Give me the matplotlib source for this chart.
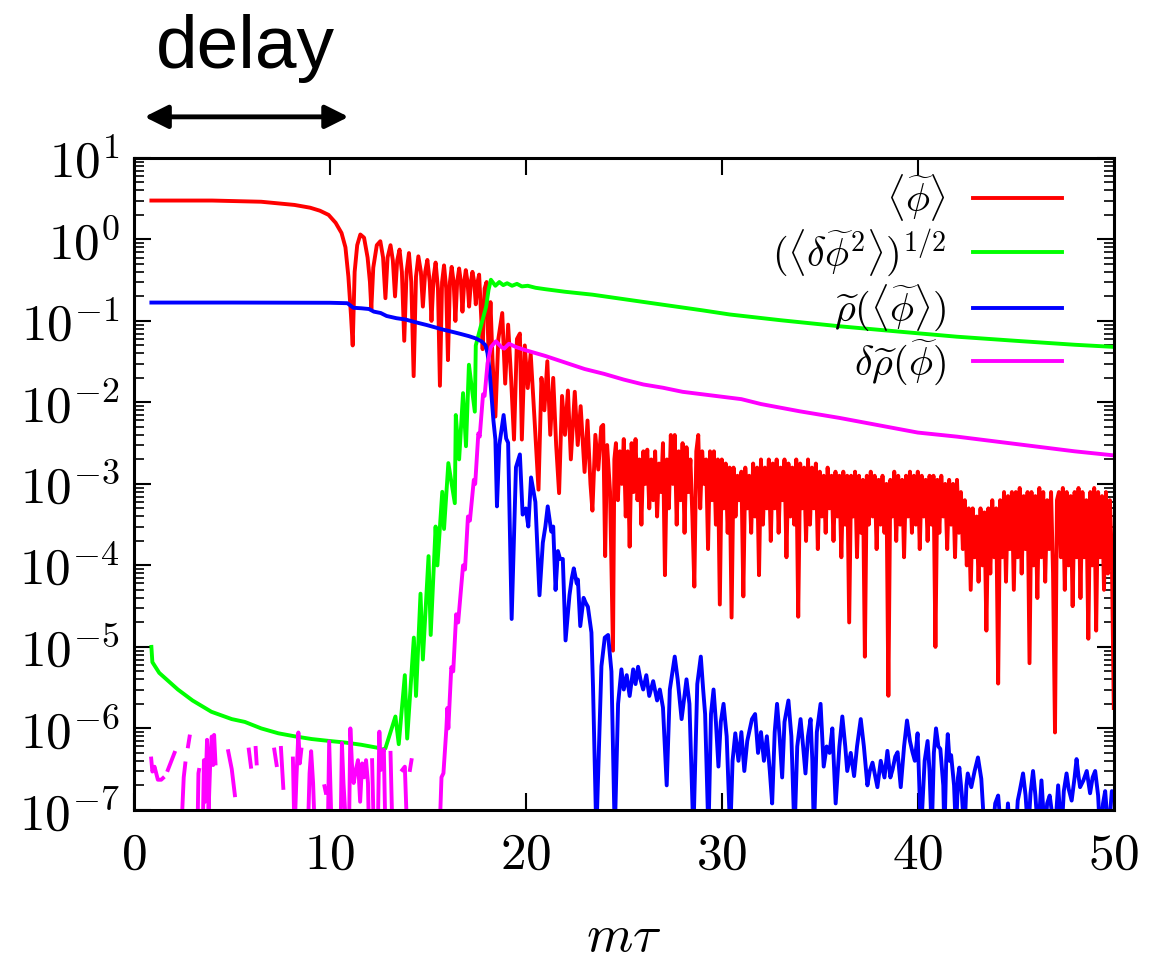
import numpy as np
import matplotlib
matplotlib.use("Agg")
import matplotlib.pyplot as plt
from matplotlib.ticker import FuncFormatter, LogLocator, NullFormatter, FixedLocator

plt.rcParams["mathtext.fontset"] = "cm"

# ---- data ----
# <phi~>  (red): early part with explicit times
red_t = [0.9, 4.0, 6.5, 8.2, 9.0, 9.5, 9.94, 10.3, 10.6, 10.8, 10.95, 11.08, 11.17,
         11.27, 11.4, 11.56, 11.75, 11.93, 12.05, 12.12, 12.22, 12.4, 12.58, 12.72, 12.84,
         12.95, 13.1, 13.22, 13.33, 13.44, 13.56, 13.68, 13.8, 13.92, 14.04, 14.16, 14.28,
         14.4, 14.52, 14.65, 14.75, 14.87, 14.98, 15.1, 15.19, 15.3, 15.4, 15.52, 15.62,
         15.73, 15.83, 15.94, 16.03, 16.13, 16.22, 16.32, 16.41, 16.5, 16.6, 16.69, 16.77,
         16.86, 16.94, 17.03, 17.11, 17.2, 17.28, 17.37, 17.45, 17.54, 17.62, 17.72, 17.8,
         17.9, 18.0, 18.1, 18.2, 18.3, 18.45, 18.6, 18.8, 18.95, 19.1, 19.25, 19.4, 19.55,
         19.7, 19.8, 19.95, 20.1, 20.25, 20.45, 20.65, 20.8, 20.95, 21.1, 21.25, 21.4, 21.55,
         21.7, 21.85, 22.0, 22.15, 22.3, 22.5, 22.65, 22.8, 23.0, 23.15, 23.3, 23.4, 23.55,
         23.7, 23.85, 23.95, 24.05, 24.15, 24.3, 24.45, 24.52]
red_v = [3.0, 3.0, 2.9, 2.65, 2.45, 2.25, 2.0, 1.6, 1.2, 0.8, 0.35, 0.12, 0.05,
         0.4, 0.85, 1.15, 1.05, 0.6, 0.3, 0.14, 0.45, 0.85, 0.95, 0.6, 0.19,
         0.6, 0.85, 0.55, 0.2, 0.55, 0.75, 0.4, 0.057, 0.4, 0.68, 0.3, 0.021,
         0.35, 0.62, 0.4, 0.15, 0.4, 0.56, 0.3, 0.1, 0.35, 0.52, 0.25, 0.016,
         0.3, 0.48, 0.25, 0.033, 0.3, 0.46, 0.3, 0.1, 0.3, 0.44, 0.3, 0.13,
         0.3, 0.42, 0.3, 0.15, 0.3, 0.4, 0.3, 0.16, 0.3, 0.37, 0.12, 0.045,
         0.25, 0.3, 0.04, 0.17, 0.035, 0.0067, 0.06, 0.125, 0.017, 0.09, 0.02, 0.0035, 0.06,
         0.07, 0.0035, 0.05, 0.015, 0.04, 0.006, 0.00085, 0.02, 0.008, 0.032, 0.004, 0.02, 0.003,
         0.00077, 0.012, 0.004, 0.014, 0.002, 0.0135, 0.003, 0.009, 0.0014, 0.006, 0.001, 0.00047, 0.004,
         0.0015, 0.005, 0.0053, 0.00013, 0.003, 0.0008, 9e-6, 0.002]
# red late part: log10 values every 0.1 starting at t = 24.6
red_tail_t0 = 24.6
red_tail_dt = 0.1
red_tail_log = [
    -2.5, -3.2, -2.6, -3.0, -2.45, -3.4, -2.6, -3.77, -2.5, -3.1,
    -2.45, -3.2, -2.7, -3.5, -2.6, -3.0, -2.58, -3.3, -2.7, -3.2,
    -2.6, -3.4, -2.75, -3.1, -2.5, -4.12, -2.7, -3.3, -2.4, -3.0,
    -2.4, -3.5, -2.6, -3.2, -2.5, -3.6, -2.55, -3.1, -2.7, -3.4,
    -4.26, -2.6, -2.4, -3.3, -2.6, -3.0, -2.7, -3.8, -2.6, -3.2,
    -2.6, -3.5, -2.7, -4.48, -2.7, -3.3, -2.75, -3.6, -2.8, -4.64,
    -2.8, -3.4, -2.9, -3.2, -2.85, -4.38, -2.8, -3.3, -2.9, -3.6,
    -2.75, -3.4, -2.8, -4.12, -2.7, -3.5, -2.8, -3.3, -2.7, -3.7,
    -2.75, -3.3, -2.7, -3.6, -2.8, -3.2, -2.7, -3.9, -2.75, -3.4,
    -2.8, -3.5, -2.7, -4.63, -2.75, -3.3, -2.8, -3.7, -2.7, -3.5,
    -2.8, -3.3, -2.75, -3.8, -2.85, -3.4, -2.9, -3.6, -2.8, -3.3,
    -2.9, -3.7, -2.85, -3.4, -2.9, -3.9, -2.85, -3.5, -2.9, -4.7,
    -2.9, -3.4, -2.85, -3.9, -2.9, -3.6, -2.95, -5.12, -2.9, -3.5,
    -2.85, -3.4, -2.9, -3.8, -2.95, -3.5, -2.9, -3.6, -3.0, -5.6,
    -2.95, -3.4, -2.85, -3.7, -2.9, -3.5, -2.95, -3.9, -2.9, -3.4,
    -2.85, -3.6, -2.9, -3.5, -2.85, -3.8, -2.9, -3.4, -2.95, -3.7,
    -2.9, -3.5, -2.9, -5.0, -2.95, -3.6, -2.9, -3.4, -3.0, -3.8,
    -2.95, -3.5, -3.0, -3.9, -2.95, -3.6, -3.1, -3.8, -3.2, -4.0,
    -3.3, -4.3, -3.3, -3.9, -3.4, -4.2, -3.3, -4.0, -3.35, -4.8,
    -3.3, -4.1, -3.2, -3.9, -3.3, -5.45, -3.2, -3.9, -3.1, -4.2,
    -3.15, -3.8, -3.1, -4.3, -3.1, -3.9, -3.05, -4.1, -3.15, -3.8,
    -3.1, -5.2, -3.1, -4.0, -3.15, -4.4, -3.05, -3.9, -3.1, -4.2,
    -3.2, -3.8, -3.1, -4.1, -6.05, -3.2, -3.1, -3.9, -3.05, -4.3,
    -3.1, -4.0, -3.15, -4.5, -3.1, -3.9, -3.05, -4.4, -3.1, -3.9,
    -3.2, -4.9, -3.1, -4.0, -3.05, -4.8, -3.1, -3.9, -3.15, -4.3,
    -3.1, -4.1, -3.2, -3.9, -5.75]

# (<delta phi~^2>)^(1/2)  (green)
green_t = [0.9, 0.95, 1.3, 2.25, 3.0, 3.96, 5.0, 5.67, 6.5, 7.38, 8.2, 9.08, 10.0, 10.8,
           11.6, 12.41, 12.7, 12.84, 13.1, 13.35, 13.52, 13.83, 13.95, 14.15, 14.29, 14.4,
           14.63, 14.75, 15.04, 15.15, 15.4, 15.49, 15.74, 15.83, 16.05, 16.38, 16.43, 16.6,
           16.8, 16.95, 17.1, 17.4, 17.45, 17.7, 17.98, 18.1, 18.22, 18.45, 18.65, 18.85,
           19.05, 19.3, 19.55, 19.8, 20.1, 20.5, 21.0, 22.0, 23.4, 25.0, 27.0, 29.0, 30.4,
           33.0, 36.0, 39.3, 42.0, 45.0, 48.0, 50.0]
green_v = [1e-5, 6.5e-6, 4.8e-6, 3e-6, 2.2e-6, 1.6e-6, 1.3e-6, 1.2e-6, 1e-6, 8.7e-7, 8e-7, 7.4e-7, 7e-7, 6.7e-7,
           6.3e-7, 5.8e-7, 5.5e-7, 5.7e-7, 9e-7, 1.4e-6, 6.4e-7, 4.5e-6, 7.5e-7, 4e-6, 1.3e-5, 2.5e-6,
           4.5e-5, 7e-6, 1.3e-4, 1.4e-5, 3e-4, 1e-4, 8e-4, 2.8e-4, 1.8e-3, 5.8e-4, 7e-3, 2e-3,
           1.3e-2, 2.9e-3, 2.9e-2, 7.7e-3, 5e-2, 8.5e-2, 0.15, 0.24, 0.32, 0.27, 0.3, 0.275,
           0.29, 0.27, 0.285, 0.265, 0.27, 0.255, 0.245, 0.228, 0.21, 0.185, 0.158, 0.135, 0.12,
           0.102, 0.086, 0.073, 0.064, 0.057, 0.051, 0.048]

# rho~(<phi~>)  (blue); 5e-8 marks points that fall below the frame
blue_t = [0.9, 5.0, 10.0, 10.9, 11.05, 11.2, 11.6, 12.0, 12.25, 12.6, 12.9, 13.4, 13.87, 14.4,
          14.95, 15.4, 15.8, 16.3, 16.7, 17.1, 17.45, 17.75, 17.95, 18.05, 18.15, 18.25, 18.35,
          18.45, 18.53, 18.65, 18.87, 19.0, 19.1, 19.28, 19.5, 19.7, 19.84, 20.0, 20.13, 20.27,
          20.4, 20.49, 20.7, 20.87, 21.0, 21.12, 21.3, 21.4, 21.52, 21.64, 21.75, 21.89, 22.03,
          22.23, 22.35, 22.45, 22.6, 22.66, 22.78, 22.95, 23.05, 23.17, 23.35, 23.43, 23.6,
          23.86, 24.03, 24.2, 24.37, 24.54, 24.71, 24.88, 25.0, 25.15, 25.3, 25.48, 25.6, 25.73,
          25.85, 25.99, 26.15, 26.3, 26.5, 26.7, 26.84, 27.0, 27.19, 27.35, 27.6, 27.75, 27.95,
          28.2, 28.35, 28.55, 28.75, 28.93, 29.05, 29.15, 29.32, 29.45, 29.58, 29.7, 29.83,
          29.95, 30.09, 30.25, 30.43, 30.55, 30.69, 30.85, 31.0, 31.15, 31.3, 31.54, 31.7,
          31.85, 32.0, 32.15, 32.3, 32.45, 32.57, 32.7, 32.82, 32.95, 33.08, 33.2, 33.4, 33.55,
          33.71, 33.85, 34.02, 34.15, 34.27, 34.4, 34.53, 34.62, 34.7, 34.85, 35.04, 35.2,
          35.35, 35.5, 35.64, 35.81, 36.0, 36.15, 36.3, 36.4, 36.58, 36.75, 36.9, 37.09, 37.25,
          37.43, 37.55, 37.69, 37.94, 38.11, 38.3, 38.45, 38.6, 38.71, 38.85, 38.97, 39.13,
          39.3, 39.45, 39.6, 39.73, 39.85, 39.99, 40.16, 40.35, 40.5, 40.6, 40.71, 40.82, 40.93,
          41.05, 41.15, 41.3, 41.36, 41.45, 41.53, 41.62, 41.7, 41.85, 41.95, 42.05, 42.12,
          42.25, 42.38, 42.48, 42.55, 42.73, 42.9, 43.07, 43.24, 43.41, 43.8, 43.95, 44.1,
          44.26, 44.5, 44.6, 44.7, 45.0, 45.1, 45.2, 45.37, 45.5, 45.63, 45.75, 45.88, 46.0,
          46.14, 46.31, 46.48, 46.6, 46.73, 46.99, 47.16, 47.33, 47.45, 47.59, 47.7, 47.85,
          48.0, 48.1, 48.2, 48.28, 48.45, 48.62, 48.79, 48.92, 49.05, 49.2, 49.3, 49.45, 49.56,
          49.73, 49.9, 50.0]
blue_v = [0.168, 0.168, 0.167, 0.165, 0.155, 0.145, 0.143, 0.14, 0.13, 0.125, 0.115, 0.108, 0.104, 0.096,
          0.089, 0.083, 0.078, 0.073, 0.069, 0.065, 0.061, 0.056, 0.05, 0.04, 0.025, 0.012, 0.006,
          0.0035, 5.3e-4, 3e-3, 7e-3, 3.6e-3, 3.2e-3, 2.2e-5, 1.6e-3, 2.3e-3, 4.2e-4, 5e-4, 3e-4, 1.2e-3,
          8e-4, 6e-4, 4.3e-5, 1.9e-4, 3e-4, 5.3e-4, 2.6e-4, 3e-4, 5e-5, 1.5e-4, 1.2e-4, 1.2e-4, 1.2e-5,
          4.3e-5, 7e-5, 9.2e-5, 6e-5, 6.7e-5, 1.8e-5, 4e-5, 3.5e-5, 3.1e-5, 1.5e-5, 3.3e-6, 5e-8,
          5.8e-6, 1.3e-5, 1.4e-5, 5e-6, 5e-8, 2e-6, 5.3e-6, 3e-6, 4.5e-6, 2.5e-6, 5.3e-6, 3.5e-6, 5.7e-6,
          4e-6, 3e-6, 4.5e-6, 2.5e-6, 3.8e-6, 2.2e-6, 3e-6, 1.8e-6, 2e-7, 3e-6, 7.6e-6, 4e-6, 1.3e-6,
          4e-6, 2e-6, 5e-8, 3.5e-6, 7.6e-6, 3e-6, 1.5e-6, 5e-8, 1.5e-6, 3e-6, 1.2e-6, 3.4e-7,
          1.2e-6, 2e-6, 8e-7, 5e-8, 4e-7, 8.7e-7, 4e-7, 9e-7, 3e-7, 7e-7, 1.3e-6, 1.5e-6,
          5e-7, 9e-7, 4e-7, 8e-7, 3e-7, 1.2e-7, 9e-7, 2e-6, 8e-7, 2.5e-7, 1.2e-6, 2.2e-6, 8e-7,
          5e-8, 6e-7, 1.3e-6, 6e-7, 2.8e-7, 8e-7, 1.3e-6, 4e-7, 5e-8, 9e-7, 2e-6, 3.4e-7,
          6e-7, 5e-7, 1e-6, 1.2e-7, 6e-7, 1.4e-6, 6e-7, 3e-7, 5e-7, 2.6e-7, 6e-7, 1.3e-6, 6e-7,
          2e-7, 3e-7, 3.8e-7, 1.9e-7, 4e-7, 2.5e-7, 5.3e-7, 2.5e-7, 3.1e-7, 4.5e-7, 5.1e-7, 1.9e-7,
          6e-7, 1.25e-6, 7e-7, 5.1e-7, 4e-7, 8.7e-7, 5e-8, 4e-7, 7e-7, 3e-7, 5e-8, 5e-7, 1e-6,
          6e-7, 5.6e-7, 2e-7, 5e-8, 4e-7, 8.5e-7, 4e-7, 4.7e-7, 2e-7, 5e-8, 2.5e-7, 3.3e-7,
          1.5e-7, 5e-8, 2e-7, 2.8e-7, 1.9e-7, 3e-7, 4.4e-7, 2.4e-7, 5e-8, 5e-8, 1.2e-7, 1.5e-7,
          5e-8, 5e-8, 1.2e-7, 5e-8, 5e-8, 1.3e-7, 1.7e-7, 2.8e-7, 1.5e-7, 5e-8, 1.6e-7, 3e-7, 1.5e-7,
          5e-8, 2.3e-7, 5e-8, 1.2e-7, 1.5e-7, 5e-8, 2e-7, 5e-8, 1.7e-7, 2.8e-7, 1.8e-7, 1.3e-7,
          2.5e-7, 4.2e-7, 2.6e-7, 1.9e-7, 2.3e-7, 3e-7, 1.6e-7, 2.5e-7, 3e-7, 1.5e-7, 5e-8, 1.2e-7, 1.7e-7,
          5e-8, 1.7e-7, 1.5e-7]

# delta rho~(phi~)  (magenta), log10 values; nan = gap (negative values in the data)
nan = np.nan
mag_t = [0.89, 0.95, 1.06, 1.23, 1.4, 1.49, 1.6,
         1.74, 2.08, 2.2,
         2.42, 2.55, 2.63, 2.7,
         2.77, 2.85, 2.9,
         3.25, 3.3, 3.33, 3.4,
         3.52, 3.58, 3.64, 3.74, 3.82, 3.9, 3.98, 4.05, 4.1, 4.17, 4.3,
         4.82, 5.0, 5.16, 5.3,
         5.87, 5.98, 6.1,
         6.22, 6.27, 6.4,
         7.17, 7.29, 7.4,
         7.51, 7.63, 7.8,
         8.12, 8.2, 8.3, 8.4, 8.47, 8.55, 8.7,
         8.88, 8.97, 9.05, 9.15, 9.24, 9.4,
         9.73, 9.8, 9.85,
         9.9, 9.97, 10.1, 10.55, 10.62, 10.7, 10.85,
         10.98, 11.05, 11.13, 11.22, 11.3, 11.44, 11.55, 11.65, 11.75, 11.85, 11.95, 12.0, 12.05,
         12.16, 12.25, 12.45, 12.53, 12.6, 12.7, 12.76, 12.84, 12.95,
         13.1, 13.2, 13.3,
         13.7, 13.83, 13.95, 14.0,
         14.09, 14.17, 14.3,
         15.6, 15.7, 15.8, 15.95, 16.0, 16.05, 16.2, 16.3, 16.45, 16.55, 16.8, 16.9, 17.05,
         17.15, 17.35, 17.42, 17.58, 17.65, 17.82, 17.9, 18.05, 18.22, 18.48, 18.75, 18.9,
         19.14, 19.5, 20.0, 21.0, 22.0, 23.0, 24.0, 25.0, 26.0, 27.0, 28.0, 29.0, 30.0,
         31.0, 32.0, 34.0, 36.0, 38.0, 40.0, 42.0, 44.0, 46.0, 48.0, 50.0]
mag_log = [-6.37, -6.53, -6.47, -6.63, -6.63, -6.61, nan,
           -6.51, -6.30, nan,
           -7.3, -6.6, -6.43, nan,
           -6.22, -6.10, nan,
           -7.3, -6.55, -6.51, nan,
           -7.3, -6.39, -6.9, -6.14, -7.0, -6.43, -6.1, -6.45, -6.08, -6.43, nan,
           -6.28, -6.5, -6.82, nan,
           -6.26, -6.47, nan,
           -6.24, -6.43, nan,
           -6.26, -6.45, nan,
           -6.24, -6.73, nan,
           -6.37, -7.3, -6.61, -6.05, -6.43, -6.26, nan,
           -7.3, -6.55, -6.28, -6.67, -7.3, nan,
           -6.71, -6.79, nan,
           -7.3, -6.16, -7.3, -7.3, -6.18, -6.67, -7.3,
           -7.3, -6.0, -6.43, -6.67, -6.55, -6.39, -6.9, -6.43, -6.6, -6.39, -6.67, -7.3, nan,
           -6.39, -7.3, -7.3, -6.04, -6.51, -6.3, -6.26, -7.3, nan,
           -6.30, -7.3, nan,
           -6.51, -6.47, -7.3, nan,
           -6.51, -6.39, nan,
           -7.3, -6.6, -6.55, -6.0, -5.75, -6.0, -5.25, -5.3, -4.6, -4.7, -4.0, -4.05, -3.4,
           -3.45, -2.95, -3.0, -2.38, -2.42, -1.9, -1.92, -1.52, -1.32, -1.25, -1.32, -1.34,
           -1.28, -1.32, -1.36, -1.43, -1.51, -1.59, -1.65, -1.72, -1.78, -1.82, -1.87, -1.9, -1.93,
           -1.96, -2.02, -2.11, -2.19, -2.28, -2.37, -2.42, -2.48, -2.54, -2.6, -2.65]

labels = [r"$\langle\widetilde{\phi}\rangle$",
          r"$(\langle\delta\widetilde{\phi}^2\rangle)^{1/2}$",
          r"$\widetilde{\rho}(\langle\widetilde{\phi}\rangle)$",
          r"$\delta\widetilde{\rho}(\widetilde{\phi})$"]
colors = ["#ff0000", "#00ff00", "#0000ff", "#ff00ff"]

# ---- assemble ----
red_tail_t = red_tail_t0 + red_tail_dt * np.arange(len(red_tail_log))
red_x = np.concatenate([red_t, red_tail_t])
red_y = np.concatenate([red_v, 10.0 ** np.array(red_tail_log)])
mag_y = 10.0 ** np.array(mag_log)

fig = plt.figure(figsize=(11.53, 9.63), dpi=100)
ax = fig.add_axes([0.116, 0.159, 0.850, 0.677])

lw = 2.8
ax.plot(red_x, red_y, color=colors[0], lw=lw, label=labels[0])
ax.plot(green_t, green_v, color=colors[1], lw=lw, label=labels[1])
ax.plot(blue_t, blue_v, color=colors[2], lw=lw, label=labels[2])
ax.plot(mag_t, mag_y, color=colors[3], lw=lw, label=labels[3])

ax.set_yscale("log")
ax.set_xlim(0, 50)
ax.set_ylim(1e-7, 1e1)

ax.xaxis.set_major_locator(FixedLocator([0, 10, 20, 30, 40, 50]))
ax.xaxis.set_major_formatter(FuncFormatter(lambda v, p: r"$%d$" % v))
ax.yaxis.set_major_locator(LogLocator(base=10, numticks=20))
ax.yaxis.set_minor_locator(LogLocator(base=10, subs=np.arange(2, 10), numticks=20))
ax.yaxis.set_minor_formatter(NullFormatter())
ax.yaxis.set_major_formatter(FuncFormatter(lambda v, p: r"$10^{%d}$" % int(round(np.log10(v)))))

ax.tick_params(which="major", direction="in", length=12, width=1.5,
               top=True, right=True, labelsize=37)
ax.tick_params(which="minor", direction="in", length=7, width=1.2, right=True)
ax.tick_params(axis="x", pad=14)
ax.tick_params(axis="y", pad=10)
for s in ax.spines.values():
    s.set_linewidth(2.2)

ax.set_xlabel(r"$m\tau$", fontsize=38, labelpad=22)

leg = ax.legend(loc="upper right", bbox_to_anchor=(0.947, 0.978), frameon=False,
                markerfirst=False, fontsize=29, handlelength=2.2, handletextpad=0.67,
                labelspacing=0.1, borderaxespad=0, borderpad=0)

# delay arrow above the frame
trans = ax.get_xaxis_transform()
ax.annotate("", xy=(0.55, 1.063), xytext=(10.96, 1.063), xycoords=trans, textcoords=trans,
            arrowprops=dict(arrowstyle="<|-|>", color="black", lw=3.5, mutation_scale=35,
                            shrinkA=0, shrinkB=0), annotation_clip=False)
ax.text(5.7, 1.138, "delay", transform=trans, ha="center", va="baseline",
        fontsize=54, family="Liberation Sans")

fig.savefig("out.png", dpi=100)
